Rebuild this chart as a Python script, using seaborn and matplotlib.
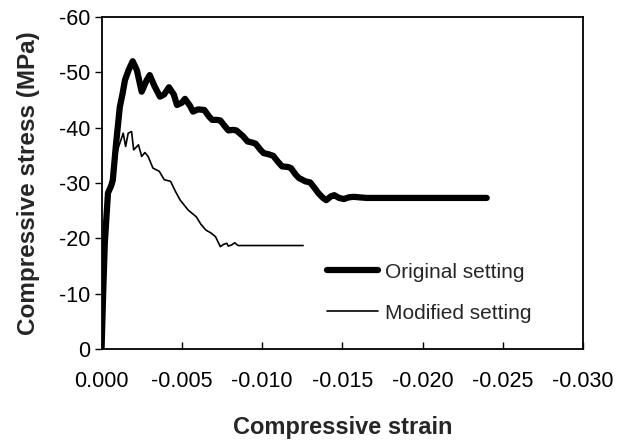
import matplotlib
matplotlib.use("Agg")
import matplotlib.pyplot as plt
import seaborn as sns
import pandas as pd
import numpy as np

# Original setting (thick line)
orig_strain = [0.0, -0.0001, -0.0002, -0.0004, -0.0006, -0.0007, -0.0009, -0.00114, -0.0013,
               -0.00146, -0.0017, -0.00194, -0.0022, -0.0025, -0.0028, -0.0030, -0.0033,
               -0.00364, -0.0039, -0.0042, -0.0045, -0.0047, -0.0050, -0.0052, -0.0055,
               -0.0057, -0.0060, -0.0064, -0.0067, -0.0069, -0.0072, -0.0074, -0.0077,
               -0.0079, -0.0082, -0.0084, -0.0088, -0.0091, -0.0094, -0.0096, -0.0099,
               -0.0101, -0.0104, -0.0107, -0.0110, -0.01125, -0.0116, -0.0118, -0.0121,
               -0.0123, -0.0127, -0.0130, -0.0133, -0.0135, -0.0138, -0.0140, -0.0143,
               -0.0145, -0.0148, -0.0151, -0.0154, -0.0157, -0.0165, -0.0180, -0.0200,
               -0.0220, -0.0240]
orig_stress = [0.0, -10.1, -19.0, -28.2, -29.5, -30.5, -37.0, -43.8, -46.0,
               -48.6, -50.5, -52.0, -50.4, -46.5, -48.5, -49.5, -47.5,
               -45.6, -46.0, -47.3, -46.0, -44.1, -44.5, -45.2, -44.0,
               -42.9, -43.3, -43.2, -42.0, -41.4, -41.4, -41.3, -40.2,
               -39.5, -39.6, -39.5, -38.5, -37.5, -37.3, -37.1, -36.0,
               -35.4, -35.2, -34.9, -33.8, -33.0, -32.9, -32.7, -31.5,
               -30.9, -30.3, -30.1, -29.0, -28.2, -27.3, -26.9, -27.6,
               -27.8, -27.3, -27.1, -27.4, -27.5, -27.3, -27.3, -27.3,
               -27.3, -27.3]

# Modified setting (thin line)
mod_strain = [0.0, -0.0001, -0.0004, -0.0007, -0.0010, -0.00135, -0.0015, -0.00166,
              -0.00187, -0.0020, -0.0023, -0.0025, -0.0027, -0.0029, -0.0032, -0.0036,
              -0.0039, -0.0043, -0.0046, -0.0049, -0.0054, -0.0059, -0.0062, -0.0065,
              -0.0068, -0.0071, -0.0074, -0.0076, -0.0078, -0.0079, -0.0081, -0.0083,
              -0.0085, -0.0100, -0.01256]
mod_stress = [0.0, -10.0, -27.0, -30.0, -36.0, -39.0, -36.6, -39.0,
              -39.3, -36.0, -36.9, -34.8, -35.5, -34.8, -32.7, -32.1,
              -30.6, -30.3, -28.5, -26.9, -25.1, -23.9, -22.5, -21.5,
              -21.0, -20.3, -18.5, -18.9, -19.1, -18.6, -18.8, -19.2,
              -18.7, -18.7, -18.7]

xticks = [0.0, -0.005, -0.010, -0.015, -0.020, -0.025, -0.030]
yticks = [0, -10, -20, -30, -40, -50, -60]

sns.set_style("white")
plt.rcParams['font.family'] = ['Liberation Sans', 'DejaVu Sans']
plt.rcParams['axes.unicode_minus'] = False

df_o = pd.DataFrame({"strain": orig_strain, "stress": orig_stress})
df_m = pd.DataFrame({"strain": mod_strain, "stress": mod_stress})

fig = plt.figure(figsize=(6.17, 4.41), dpi=100)
ax = fig.add_axes([0.1646, 0.2086, 0.7803, 0.7529])

sns.lineplot(data=df_o, x="strain", y="stress", sort=False, estimator=None,
             color="black", lw=4.5, ax=ax, label="Original setting",
             solid_joinstyle="round", solid_capstyle="round")
sns.lineplot(data=df_m, x="strain", y="stress", sort=False, estimator=None,
             color="black", lw=1.2, ax=ax, label="Modified setting")

ax.set_xlim(0, -0.030)
ax.set_ylim(0, -60)
ax.set_xticks(xticks)
ax.set_yticks(yticks)
ax.set_xticklabels([f"{v:.3f}" if v != 0 else "0.000" for v in xticks], fontsize=15.5)
ax.set_yticklabels([str(v) for v in yticks], fontsize=15.5)
ax.tick_params(axis='x', direction='in', length=5, width=1, pad=16, colors='black', bottom=True)
ax.tick_params(axis='y', direction='out', length=5, width=1, pad=3, colors='black', left=True)

for s in ax.spines.values():
    s.set_color('black')
    s.set_linewidth(1.3)

ax.set_xlabel("Compressive strain", fontsize=17, fontweight='bold', labelpad=17)
ax.set_ylabel("Compressive stress (MPa)", fontsize=17.5, fontweight='bold', labelpad=14)

leg = ax.legend(loc='upper left', bbox_to_anchor=(0.469, 0.26), frameon=False,
                borderaxespad=0, borderpad=0,
                fontsize=15, handlelength=2.45, handletextpad=0.34, labelspacing=1.05)

fig.savefig("out.png", dpi=100)
